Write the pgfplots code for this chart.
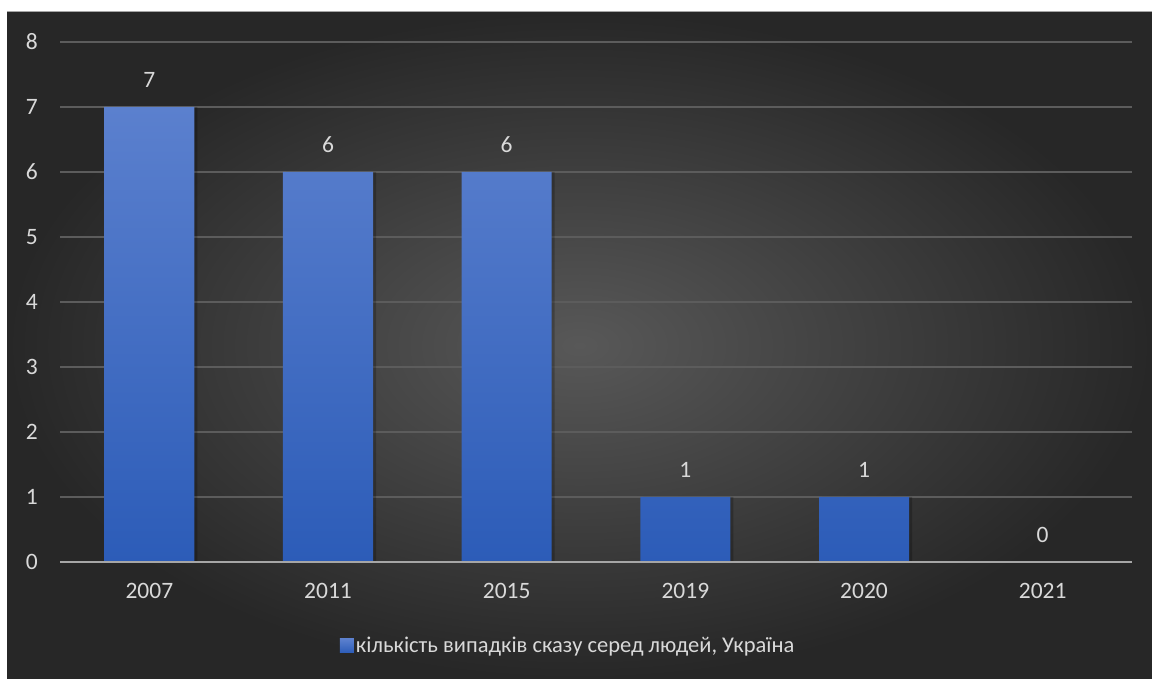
\documentclass[border=0pt]{standalone}
\usepackage{pgfplots}
\pgfplotsset{compat=1.18}
\usepackage{fontspec}
\setmainfont{Carlito}
\definecolor{bgin}{HTML}{585858}
\definecolor{bgout}{HTML}{272727}
\definecolor{gridc}{HTML}{5C5C5C}
\definecolor{axisc}{HTML}{A6A6A6}
\definecolor{txt}{HTML}{D9D9D9}
\definecolor{bartop}{HTML}{5B80CE}
\definecolor{barbot}{HTML}{2C5CB8}
\definecolor{legc}{HTML}{4672CC}
\begin{document}
\begin{tikzpicture}[x=1pt,y=1pt]
\useasboundingbox (0,0) rectangle (1152,679);
\fill[white] (0,0) rectangle (1152,679);
\shade[inner color=bgin, outer color=bgout] (7,0) rectangle (1152,667);
\draw[color=gray!70, line width=1pt] (7,667) -- (1152,667);
\begin{axis}[
  at={(60pt,117pt)}, anchor=south west,
  width=1072pt, height=520pt, scale only axis,
  xmin=-0.5, xmax=5.5, ymin=0, ymax=8,
  axis line style={draw=none},
  tick style={draw=none},
  ytick={0,1,...,8},
  xtick={0,1,2,3,4,5},
  xticklabels={2007,2011,2015,2019,2020,2021},
  ymajorgrids,
  major grid style={color=gridc, line width=1.5pt},
  ticklabel style={text=txt, font=\fontsize{23.5}{27}\selectfont},
  yticklabel style={anchor=east, inner sep=0pt, xshift=-22pt},
  xticklabel style={anchor=north, inner sep=0pt, yshift=-21pt},
  /pgf/number format/assume math mode=true,
  legend style={at={(0.474,-0.1615)}, anchor=center, draw=none, fill=none,
    text=txt, font=\fontsize{22.5}{27}\selectfont, inner sep=0pt},
  legend image code/.code={\fill[legc] (-4pt,-7pt) rectangle (10pt,7pt);},
  clip=false,
]
\addplot[ybar, bar width=90pt, bar shift=3pt, draw=none, fill=black, fill opacity=0.22, forget plot]
  coordinates {(0,7) (1,6) (2,6) (3,1) (4,1) (5,0)};
\addplot[ybar, bar width=90pt, bar shift=0pt, draw=none, top color=bartop, bottom color=barbot,
  nodes near coords,
  nodes near coords style={anchor=south, inner sep=0pt, yshift=19pt, text=txt, font=\fontsize{23.5}{27}\selectfont},
  point meta=explicit symbolic]
  coordinates {(0,7) [7] (1,6) [6] (2,6) [6] (3,1) [1] (4,1) [1] (5,0) [0]};
\addlegendentry{кількість випадків сказу серед людей, Україна}
\draw[color=axisc, line width=2pt] (axis cs:-0.5,0) -- (axis cs:5.5,0);
\end{axis}
\end{tikzpicture}
\end{document}
